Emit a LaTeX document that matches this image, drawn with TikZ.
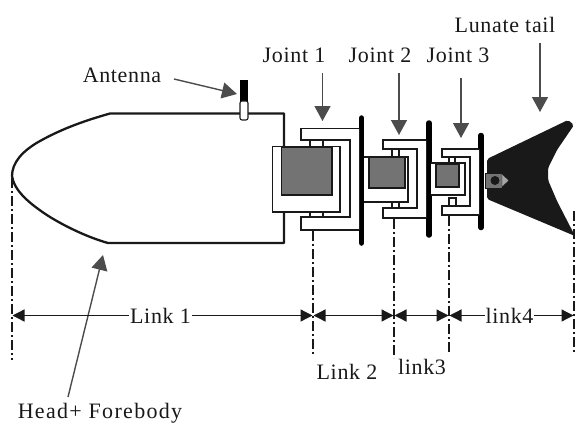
\documentclass[tikz,border=0pt]{standalone}
\usepackage{fontspec}
\setmainfont{Liberation Serif}
\usetikzlibrary{arrows.meta}
\definecolor{ink}{gray}{0.1}
\definecolor{pointer}{gray}{0.3}
\definecolor{core}{gray}{0.45}
\tikzset{
  x=1pt,y=-1pt,
  lab/.style={inner sep=0pt,text=ink,font=\fontsize{22}{24}\selectfont\addfontfeature{LetterSpace=3}},
  pointerarrow/.style={draw=pointer,line width=1.4pt,-{Triangle[width=16pt,length=15pt]}},
  dim/.style={draw=ink,line width=1.3pt,{Triangle[width=12pt,length=12pt]}-{Triangle[width=12pt,length=12pt]},shorten >=0.5pt,shorten <=0.5pt},
  centerline/.style={draw=ink,line width=1.6pt,dash pattern=on 10pt off 3pt on 2pt off 3pt},
  bracket/.style={draw=ink,line width=1.5pt,fill=white,line join=miter},
  corebox/.style={draw=ink,line width=1.6pt,fill=core},
  plate/.style={draw=black,line width=5.5pt,line cap=round},
}
\begin{document}
\begin{tikzpicture}
\useasboundingbox (0,0) rectangle (576,424);
\fill[white] (0,0) rectangle (576,424);
% centre lines
\coordinate (c1a) at (12,178); \coordinate (c1b) at (12,360);
\coordinate (c2a) at (313,231); \coordinate (c2b) at (313,356);
\coordinate (c3a) at (394,219); \coordinate (c3b) at (394,358);
\coordinate (c4a) at (449,216); \coordinate (c4b) at (449,353);
\coordinate (c5a) at (574,211); \coordinate (c5b) at (574,352);
\draw[centerline] (c1a)--(c1b);
\draw[centerline] (c2a)--(c2b);
\draw[centerline] (c3a)--(c3b);
\draw[centerline] (c4a)--(c4b);
\draw[centerline,line width=2.4pt] (c5a)--(c5b);
% body
\draw[draw=ink,line width=2.3pt,line join=round] (284,147)--(284,113.5)--(110,113.5)
  .. controls (80,122) and (60,130) .. (40,141)
  .. controls (22,151) and (12,163) .. (12,176)
  .. controls (14,190) and (28,203) .. (50,217)
  .. controls (68,228) and (90,238) .. (108,243)--(284,243)--(284,212);
% antenna
\fill[black] (240,80) rectangle (248,101);
\draw[draw=ink,line width=1.1pt,fill=white,rounded corners=2pt] (240,101)--(240,120)--(248,120)--(248,101)--cycle;
% joint 1
\draw[plate] (361.5,118)--(361.5,243);
\draw[bracket] (359,128.5)--(301,128.5)--(301,140)--(350,140)--(350,217)--(301,217)--(301,230)--(359,230);
\draw[bracket] (310,140) rectangle (323,147);
\draw[bracket] (310,212) rectangle (323,217);
\draw[bracket] (272.5,146.5) rectangle (340,212);
\draw[corebox] (281.5,147) rectangle (332,195);
% joint 2
\draw[bracket] (364,157)--(408,157)--(408,202)--(364,202);
\draw[plate] (429,123)--(429,235);
\draw[bracket] (426,140)--(383,140)--(383,149)--(417,149)--(417,208)--(383,208)--(383,218)--(426,218);
\draw[bracket] (392,149) rectangle (399,157);
\draw[bracket] (392,202) rectangle (399,208);
\draw[corebox] (369,157) rectangle (405,188);
% joint 3
\draw[bracket] (431,163)--(465,163)--(465,195)--(431,195);
\draw[plate] (481,135.5)--(481,227.5);
\draw[bracket] (479,149)--(442,149)--(442,157)--(470,157)--(470,206)--(442,206)--(442,215)--(479,215);
\draw[bracket] (449,157) rectangle (455,163);
\draw[bracket] (449,198) rectangle (456,206);
\draw[corebox] (436,164) rectangle (459,187);
% tail
\fill[ink,rounded corners=2pt] (487,159)--(568,120)--(574,125)--(557,150)--(548,168)--(548,180)--(557,201)--(575,236)--(487,199)--cycle;
\draw[fill=core,draw=ink,line width=0.8pt] (485,173) rectangle (502,188);
\fill[ink] (495,180.5) circle (4.5);
\fill[gray!70,draw=ink,line width=.4pt] (502,174)--(509,180.5)--(502,187)--cycle;
% labels
\node[lab] (antenna) at (122,75) {Antenna};
\node[lab] (j1) at (294,55) {Joint 1};
\node[lab] (j2) at (380,55) {Joint 2};
\node[lab] (j3) at (458,55) {Joint 3};
\node[lab] (lunate) at (505,25) {Lunate tail};
\node[lab,font=\fontsize{22}{24}\selectfont\addfontfeature{LetterSpace=6}] (head) at (100,413) {Head+ Forebody};
\node[lab] (l2) at (347,372) {Link 2};
\node[lab] (l3) at (422,367) {link3};
% pointers
\coordinate (a1) at (174,79); \coordinate (a2) at (237,94);
\coordinate (b1) at (322.5,73); \coordinate (b2) at (322.5,121);
\coordinate (d1) at (399,73); \coordinate (d2) at (399,135);
\coordinate (e1) at (461,78); \coordinate (e2) at (461,138);
\coordinate (f1) at (540,43); \coordinate (f2) at (540,112);
\coordinate (g1) at (68,397); \coordinate (g2) at (103,255);
\draw[pointerarrow] (a1)--(a2);
\draw[pointerarrow] (b1)--(b2);
\draw[pointerarrow] (d1)--(d2);
\draw[pointerarrow] (e1)--(e2);
\draw[pointerarrow] (f1)--(f2);
\draw[pointerarrow] (g1)--(g2);
% dimensions
\coordinate (m1) at (12,315.5); \coordinate (m2) at (313,315.5);
\coordinate (m3) at (394,315.5); \coordinate (m4) at (449,315.5); \coordinate (m5) at (574,315.5);
\draw[dim] (m1)--(m2) node[midway,fill=white,lab,inner xsep=1pt,inner ysep=2pt,xshift=-2pt] (l1) {Link 1};
\draw[dim] (m2)--(m3);
\draw[dim] (m3)--(m4);
\draw[dim] (m4)--(m5) node[midway,fill=white,lab,inner xsep=1pt,inner ysep=2pt,xshift=-2pt] (l4) {link4};
\end{tikzpicture}
\end{document}
